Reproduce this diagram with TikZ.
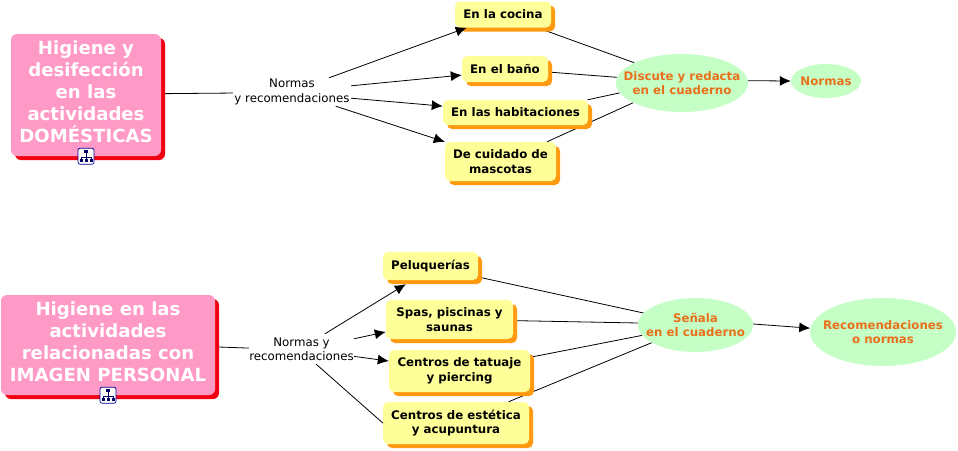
\documentclass[tikz,border=0pt]{standalone}
\usepackage{fontspec}
\setmainfont{DejaVu Sans}
\usetikzlibrary{arrows.meta,shapes.geometric,shadows,backgrounds}
\definecolor{rosa}{HTML}{FF99C6}
\definecolor{rojo}{HTML}{F00010}
\definecolor{amarillo}{HTML}{FFFF99}
\definecolor{naranja}{HTML}{FF9A10}
\definecolor{verde}{HTML}{C6FFC6}
\definecolor{letra}{HTML}{E8701A}
\tikzset{
  tema/.style={rectangle, rounded corners=6pt, fill=rosa, text=white, align=center, inner sep=0pt,
    font=\fontsize{18.1}{22}\selectfont\bfseries, text depth=6.5pt,
    general shadow={fill=rojo, shadow xshift=4pt, shadow yshift=-4pt}},
  caja/.style={rectangle, rounded corners=5pt, fill=amarillo, align=center, inner sep=0pt,
    font=\fontsize{11.8}{14.7}\selectfont\bfseries,
    general shadow={fill=naranja, shadow xshift=4pt, shadow yshift=-4pt}},
  meta/.style={ellipse, fill=verde, text=letra, align=center, inner sep=-20pt,
    font=\fontsize{11.8}{14.7}\selectfont\bfseries},
  enlace/.style={rectangle, align=center, inner sep=0pt,
    font=\fontsize{11.8}{14.4}\selectfont},
  flecha/.style={-{Latex[length=11pt,width=10pt]}, line width=0.8pt},
  linea/.style={line width=0.8pt},
  mapicon/.pic={
    \draw[blue!60!black, fill=white, rounded corners=2pt, line width=0.7pt] (-8,-8) rectangle (8,8);
    \draw[blue!40!black, line width=0.6pt] (0,-3) -- (0,4) (-5,4) -- (-5,1) -- (5,1) -- (5,4);
    \path[fill=blue!40!black] (-2,-6) rectangle (2,-3);
    \path[fill=blue!40!black] (-6.5,3) rectangle (-3.5,6);
    \path[fill=blue!40!black] (-1.5,3) rectangle (1.5,6);
    \path[fill=blue!40!black] (3.5,3) rectangle (6.5,6);
  }
}

\begin{document}
\begin{tikzpicture}[x=1pt, y=-1pt]
        \useasboundingbox (0,0) rectangle (958,450);

        % parte de arriba
        \node[tema, minimum width=150pt, minimum height=122pt] (domesticas) at (86,95) {Higiene y\\desifección\\en las\\actividades\\DOMÉSTICAS};
        \node[enlace, minimum width=118pt, minimum height=28pt] (normasA) at (292,92) {Normas\\y recomendaciones};
        \node[caja, minimum width=96pt, minimum height=26pt] (cocina) at (503,14.5) {En la cocina};
        \node[caja, minimum width=86pt, minimum height=26pt] (bano) at (505,69) {En el baño};
        \node[caja, minimum width=145pt, minimum height=25pt] (habitaciones) at (515.5,112.5) {En las habitaciones};
        \node[caja, minimum width=111pt, minimum height=39pt] (mascotas) at (500.5,161.5) {De cuidado de\\mascotas};
        \node[meta, minimum width=132pt, minimum height=58pt] (discute) at (682,83) {Discute y redacta\\en el cuaderno};
        \node[meta, minimum width=70pt, minimum height=34pt] (normas) at (826,81) {Normas};
        \pic at (domesticas.south) {mapicon};

        \begin{scope}[on background layer]
            \draw[linea] (domesticas.1) -- (normasA.181);
            \draw[linea] (cocina.-21) -- (discute.157);
            \draw[linea] (bano.-4) -- (discute.175);
            \draw[linea] (habitaciones.10) -- (discute.189);
            \draw[linea] (mascotas.23) -- (discute.202);
        \end{scope}
        \draw[flecha] (normasA.21) -- (cocina.200);
        \draw[flecha] (normasA.6) -- (bano.188);
        \draw[flecha] (normasA.-6) -- (habitaciones.175);
        \draw[flecha] (normasA.-18) -- (mascotas.north west);
        \draw[flecha] (discute.2) -- (normas.west);

        % parte de abajo
        \node[tema, minimum width=214pt, minimum height=100pt] (personal) at (108,345) {Higiene en las\\actividades\\relacionadas con\\IMAGEN PERSONAL};
        \node[enlace, minimum width=105pt, minimum height=30pt] (normasB) at (301.5,349) {Normas y\\recomendaciones};
        \node[caja, minimum width=95pt, minimum height=28pt] (peluquerias) at (430.5,266) {Peluquerías};
        \node[caja, minimum width=127pt, minimum height=39pt] (spas) at (449.5,319.5) {Spas, piscinas y\\saunas};
        \node[caja, minimum width=141pt, minimum height=42pt] (tatuaje) at (459.5,371) {Centros de tatuaje\\y piercing};
        \node[caja, minimum width=146pt, minimum height=42pt] (estetica) at (456,423) {Centros de estética\\y acupuntura};
        \node[meta, minimum width=115pt, minimum height=54pt] (senala) at (695.5,325) {Señala\\en el cuaderno};
        \node[meta, minimum width=146pt, minimum height=68pt] (recomendaciones) at (883,332) {Recomendaciones\\o normas};
        \pic at (personal.south) {mapicon};

        \begin{scope}[on background layer]
            \draw[linea] (personal.-1) -- (normasB.179);
            \draw[linea] (peluquerias.-13) -- (senala.167);
            \draw[linea] (spas.-1) -- (senala.178);
            \draw[linea] (tatuaje.11) -- (senala.191.5);
            \draw[linea] (estetica.22) -- (senala.202.7);
        \end{scope}
        \draw[flecha] (normasB.33) -- ([shift={(23pt,-4pt)}]peluquerias.south west);
        \draw[flecha] (normasB.11) -- (spas.191);
        \draw[flecha] (normasB.-8) -- (tatuaje.172.5);
        \draw[linea] (normasB.-46) -- (estetica.west);
        \draw[flecha] (senala.1) -- (recomendaciones.177);
    \end{tikzpicture}
\end{document}
